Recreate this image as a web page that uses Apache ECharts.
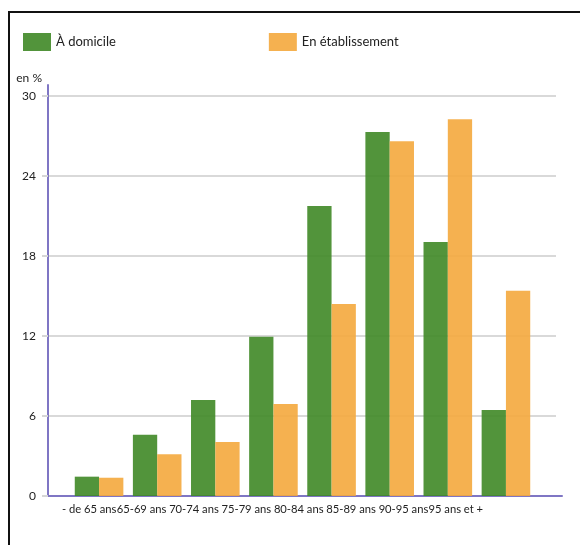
<!DOCTYPE html>
<html>
<head>
<meta charset="utf-8">
<script src="https://cdn.jsdelivr.net/npm/echarts@6/dist/echarts.min.js"></script>
<style>
html,body{margin:0;padding:0;background:#fff;}
#wrap{position:relative;width:580px;height:545px;overflow:hidden;}
#frame{position:absolute;left:8px;top:11px;right:-10px;bottom:-10px;border-left:2px solid #111;border-top:2px solid #111;pointer-events:none;}
#chart{position:absolute;left:0;top:0;width:580px;height:545px;}
</style>
</head>
<body>
<div id="wrap"><div id="chart"></div><div id="frame"></div></div>
<script>
var categories = ['- de 65 ans', '65-69 ans', '70-74 ans', '75-79 ans', '80-84 ans', '85-89 ans', '90-95 ans', '95 ans et +'];
var domicile = [1.45, 4.6, 7.2, 11.95, 21.75, 27.3, 19.05, 6.45];
var etablissement = [1.37, 3.13, 4.05, 6.9, 14.4, 26.6, 28.25, 15.4];
var yTicks = { min: 0, max: 30, interval: 6 };
var seriesNames = ['À domicile', 'En établissement'];

var FONT = 'Lato';
var chart = echarts.init(document.getElementById('chart'));
var option = {
  animation: false,
  textStyle: { fontFamily: FONT },
  legend: {
    left: 18, top: 28, itemWidth: 28, itemHeight: 18, itemGap: 153,
    icon: 'rect',
    textStyle: { fontFamily: FONT, fontSize: 13, color: '#222' },
    data: seriesNames
  },
  grid: [
    { left: 70, right: 45, top: 96, bottom: 49 },   // bars
    { left: 48, right: 24, top: 96, bottom: 49 },   // y labels, ticks, split lines
    { left: 48, right: 18, top: 85, bottom: 49 },   // axis lines
    { left: 63, right: 98, top: 96, bottom: 49 }    // category labels
  ],
  xAxis: [
    { gridIndex: 0, type: 'category', data: categories, show: false },
    { gridIndex: 1, type: 'value', show: false },
    { gridIndex: 2, type: 'value', min: 0, max: 1,
      axisLine: { show: true, lineStyle: { color: '#7f76c4', width: 2 } },
      axisTick: { show: false }, axisLabel: { show: false }, splitLine: { show: false } },
    { gridIndex: 3, type: 'category', data: categories,
      axisLine: { show: false }, axisTick: { show: false }, splitLine: { show: false },
      axisLabel: { interval: 0, margin: 8, fontFamily: FONT, fontSize: 11.2, color: '#222' } }
  ],
  yAxis: [
    { gridIndex: 0, type: 'value', min: yTicks.min, max: yTicks.max, interval: yTicks.interval, show: false },
    { gridIndex: 1, type: 'value', min: yTicks.min, max: yTicks.max, interval: yTicks.interval,
      name: 'en %', nameLocation: 'end', nameGap: 12,
      nameTextStyle: { fontFamily: FONT, fontSize: 12, color: '#222', align: 'right', padding: [0, 6, 0, 0] },
      axisLine: { show: false },
      axisTick: { show: true, length: 6, lineStyle: { color: '#d6d6d6', width: 2 } },
      axisLabel: { margin: 12, fontFamily: FONT, fontSize: 12, color: '#222' },
      splitLine: { show: true, lineStyle: { color: '#d9d9d9', width: 2 } } },
    { gridIndex: 2, type: 'value', min: 0, max: 1,
      axisLine: { show: true, lineStyle: { color: '#7f76c4', width: 2 } },
      axisTick: { show: false }, axisLabel: { show: false }, splitLine: { show: false } },
    { gridIndex: 3, type: 'value', show: false }
  ],
  series: [
    { name: seriesNames[0], type: 'bar', xAxisIndex: 0, yAxisIndex: 0, data: domicile,
      barWidth: 24.3, barGap: '0%',
      itemStyle: { color: '#3f8826', opacity: 0.9 } },
    { name: seriesNames[1], type: 'bar', xAxisIndex: 0, yAxisIndex: 0, data: etablissement,
      barWidth: 24.3, barGap: '0%',
      itemStyle: { color: '#f4a83d', opacity: 0.9 } }
  ]
};
chart.setOption(option);
</script>
</body>
</html>
